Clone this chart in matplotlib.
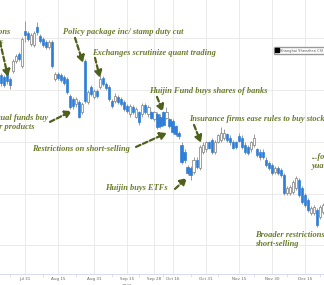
import matplotlib
matplotlib.use('Agg')
import matplotlib.pyplot as plt
import pandas as pd
from matplotlib.lines import Line2D

# trading days Jul 19 - Dec 25 2023, Golden Week closed
holidays = pd.to_datetime(['2023-09-29', '2023-10-02', '2023-10-03',
                           '2023-10-04', '2023-10-05', '2023-10-06'])
days = pd.bdate_range('2023-07-19', '2023-12-25')
days = days[~days.isin(holidays)]

opens = [3856, 3848, 3867, 3840, 3871, 3910, 3937, 3891, 4026, 4018,
         3976, 3972, 4042, 4007, 3995, 3984, 3964, 3984, 3840, 3860,
         3856, 3848, 3840, 3775, 3763, 3744, 3751, 3713, 3910, 3751,
         3809, 3771, 3794, 3809, 3844, 3821, 3809, 3755, 3755, 3771,
         3763, 3751, 3736, 3705, 3732, 3697, 3713, 3705, 3740, 3705,
         3713, 3686, 3705, 3697, 3713, 3693, 3686, 3678, 3659, 3635,
         3589, 3562, 3504, 3500, 3484, 3531, 3500, 3562, 3570, 3597,
         3608, 3562, 3600, 3608, 3616, 3628, 3616, 3600, 3597, 3620,
         3616, 3589, 3581, 3570, 3589, 3570, 3562, 3562, 3531, 3519,
         3512, 3484, 3500, 3492, 3473, 3403, 3403, 3407, 3422, 3453,
         3422, 3395, 3376, 3326, 3326, 3337, 3310, 3330]
highs = [3864, 3856, 3875, 3848, 3918, 3937, 3945, 4003, 4065, 4026,
         4018, 4026, 4061, 4015, 4003, 3991, 3991, 3991, 3867, 3867,
         3864, 3856, 3848, 3782, 3771, 3771, 3759, 3751, 3918, 3798,
         3817, 3802, 3802, 3856, 3852, 3829, 3817, 3763, 3786, 3778,
         3771, 3759, 3744, 3744, 3740, 3732, 3720, 3748, 3748, 3740,
         3720, 3720, 3713, 3705, 3720, 3732, 3693, 3686, 3666, 3643,
         3597, 3570, 3512, 3508, 3539, 3539, 3589, 3597, 3604, 3604,
         3616, 3608, 3631, 3655, 3647, 3635, 3624, 3608, 3604, 3635,
         3624, 3597, 3589, 3604, 3628, 3577, 3570, 3570, 3539, 3527,
         3519, 3508, 3508, 3500, 3481, 3430, 3434, 3453, 3469, 3461,
         3430, 3403, 3384, 3353, 3357, 3345, 3357, 3364]
lows = [3813, 3809, 3821, 3802, 3864, 3902, 3910, 3883, 3984, 3987,
        3968, 3964, 4011, 3980, 3964, 3957, 3957, 3883, 3833, 3837,
        3829, 3817, 3782, 3724, 3724, 3732, 3690, 3705, 3748, 3744,
        3775, 3763, 3767, 3802, 3813, 3798, 3755, 3728, 3748, 3744,
        3736, 3717, 3709, 3697, 3705, 3690, 3666, 3697, 3705, 3697,
        3686, 3678, 3647, 3651, 3659, 3686, 3651, 3631, 3620, 3612,
        3515, 3519, 3473, 3453, 3477, 3496, 3492, 3554, 3562, 3570,
        3554, 3554, 3593, 3600, 3608, 3600, 3589, 3570, 3573, 3597,
        3573, 3554, 3550, 3562, 3581, 3542, 3531, 3535, 3504, 3492,
        3473, 3477, 3473, 3465, 3395, 3395, 3395, 3399, 3415, 3388,
        3360, 3349, 3330, 3318, 3318, 3272, 3302, 3322]
closes = [3825, 3817, 3833, 3817, 3910, 3929, 3918, 3995, 4011, 3995,
          4011, 4018, 4022, 3987, 3972, 3964, 3984, 3891, 3860, 3844,
          3837, 3825, 3790, 3732, 3736, 3763, 3697, 3744, 3755, 3790,
          3782, 3794, 3775, 3840, 3821, 3806, 3763, 3736, 3775, 3751,
          3744, 3724, 3717, 3736, 3713, 3724, 3674, 3740, 3713, 3732,
          3693, 3713, 3655, 3659, 3666, 3713, 3659, 3639, 3628, 3620,
          3523, 3531, 3481, 3473, 3531, 3504, 3581, 3589, 3597, 3577,
          3562, 3600, 3624, 3635, 3635, 3608, 3597, 3577, 3581, 3604,
          3581, 3562, 3558, 3597, 3616, 3550, 3539, 3542, 3512, 3500,
          3481, 3500, 3481, 3473, 3403, 3422, 3426, 3446, 3461, 3395,
          3368, 3357, 3337, 3345, 3349, 3279, 3349, 3357]

tick_dates = ['2023-07-31', '2023-08-15', '2023-08-31', '2023-09-15', '2023-09-28',
              '2023-10-16', '2023-10-31', '2023-11-15', '2023-11-30', '2023-12-15']
tick_labels = ['Jul 31', 'Aug 15', 'Aug 31', 'Sep 15', 'Sep 28',
               'Oct 16', 'Oct 31', 'Nov 15', 'Nov 30', 'Dec 15']
minor_dates = ['2023-07-24', '2023-08-08', '2023-08-23', '2023-09-08', '2023-09-21',
               '2023-10-11', '2023-10-24', '2023-11-06', '2023-11-22', '2023-12-07',
               '2023-12-22']

BLUE = '#2f7ed8'
GREEN = '#6a7b2c'
ARROW = '#4f5f1c'

fig = plt.figure(figsize=(3.24, 2.85), dpi=100)
ax = fig.add_axes([0, 11 / 285, 1, 274 / 285])

pos = list(range(len(days)))
for i in pos:
    o, h, l, c = opens[i], highs[i], lows[i], closes[i]
    ax.vlines(i, l, h, color='#8c8c8c', lw=0.6, zorder=2)
    down = c < o
    ax.bar(i, max(abs(c - o), 3), bottom=min(o, c), width=0.72,
           color=BLUE if down else 'white',
           edgecolor=BLUE if down else '#7a7a7a', lw=0.5, zorder=3)

x0 = list(days).index(pd.Timestamp('2023-07-31'))
ax.set_xlim(x0 - 8.31, x0 + 99.33)
ax.set_ylim(3090, 4146)

ticks = [list(days).index(pd.Timestamp(d)) for d in tick_dates]
minors = [list(days).index(pd.Timestamp(d)) for d in minor_dates]
ax.set_xticks(ticks)
ax.set_xticklabels(tick_labels, fontsize=3, color='#666666')
ax.set_xticks(minors, minor=True)
ax.tick_params(axis='x', which='major', length=0, pad=2)
ax.tick_params(axis='x', which='minor', length=2, color='#ccd6eb', width=0.5)
ax.set_yticks([3200, 3400, 3600, 3800, 4000])
ax.tick_params(axis='y', length=0, labelleft=False)
ax.grid(True, color='#e6e6e6', lw=0.6)
ax.set_axisbelow(True)
for s in ['top', 'right', 'left']:
    ax.spines[s].set_visible(False)
ax.spines['bottom'].set_color('#ccd6eb')
ax.spines['bottom'].set_linewidth(0.6)
ax.text(ticks[3], -0.042, '2023', transform=ax.get_xaxis_transform(),
        ha='center', va='center', fontsize=3, color='#666666')


def px(x, y):
    # reference pixel -> data coords
    return x0 + (x - 25) / 3.01, 4000 + (38 - y) * 3.855


font = dict(family='Liberation Serif', style='italic', fontweight='bold',
            fontsize=6, color=GREEN)
notes = [
    ('Politburo signals policy actions', (10, 32), 'right'),
    ('to boost markets', (3, 42), 'right'),
    ('Mutual funds buy\ntheir products', (-14, 123), 'left'),
    ('Policy package inc/ stamp duty cut', (63, 32), 'left'),
    ('Exchanges scrutinize quant trading', (92, 53), 'left'),
    ('Huijin Fund buys shares of banks', (149, 91), 'left'),
    ('Insurance firms ease rules to buy stocks', (189, 119), 'left'),
    ('Restrictions on short-selling', (32, 149), 'left'),
    ('Huijin buys ETFs', (105, 188), 'left'),
    ('...following\nyuan weakness', (312, 162), 'left'),
    ('Broader restrictions on\nshort-selling', (255, 240), 'left'),
]
for txt, (x, y), ha in notes:
    ax.text(*px(x, y), txt, ha=ha, va='center', linespacing=1.15, **font)

arrows = [
    ((0, 42), (8, 77)),
    ((50, 122), (72, 111)),
    ((75, 38), (83, 63)),
    ((95, 58), (100, 78)),
    ((157, 97), (163, 112)),
    ((194, 125), (201, 143)),
    ((136, 147), (167, 133)),
    ((175, 189), (187, 178)),
]
for tail, tip in arrows:
    ax.annotate('', xy=px(*tip), xytext=px(*tail),
                arrowprops=dict(arrowstyle='-|>,head_length=0.4,head_width=0.22',
                                color=ARROW, lw=1.6, linestyle=(0, (2.2, 1.2)),
                                shrinkA=0, shrinkB=0))

handle = Line2D([], [], marker='s', color='black', ls='', markersize=2.8)
leg = fig.legend([handle], ['Shanghai Shenzhen CSI 300 Index'], loc='upper left',
                 bbox_to_anchor=(272 / 324, 1 - 45 / 285), fontsize=2.6,
                 frameon=True, edgecolor='#999999', framealpha=1,
                 handlelength=0.8, handletextpad=0.4, borderpad=0.5)
for t in leg.get_texts():
    t.set_color('#555555')

fig.savefig('out.png', dpi=100)
